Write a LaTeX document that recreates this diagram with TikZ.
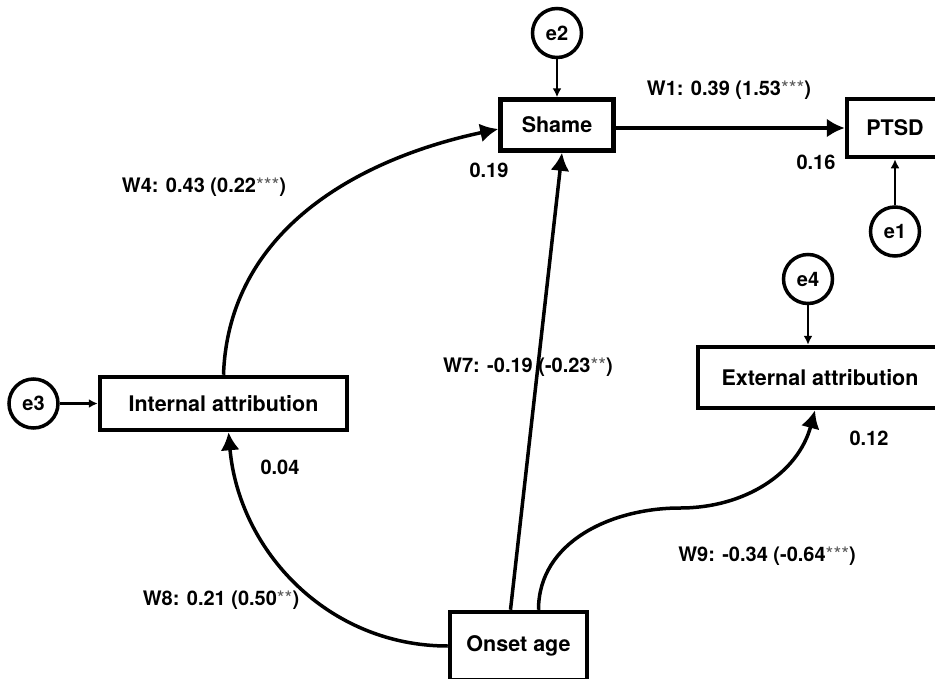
\documentclass[tikz,border=0pt]{standalone}
\usepackage{fontspec}
\setmainfont{TeX Gyre Heros}
\usepackage{tikz}
\usetikzlibrary{arrows,arrows.meta,calc,positioning}
\tikzset{
        block/.style = {draw, rectangle, line width=4.5pt,
            font=\fontsize{21.5}{25}\selectfont\bfseries},
        err/.style = {draw, circle, line width=3.5pt,
            minimum size=49pt, inner sep=0pt,
            font=\fontsize{20}{24}\selectfont\bfseries},
        lbl/.style = {font=\fontsize{20}{24}\selectfont\bfseries},
        arrow/.style = {draw, line width=3.5pt, -{Latex[length=18pt,width=19pt]}},
        errarrow/.style = {draw, line width=2.8pt, -{Latex[length=9pt,width=9pt]}},
    }
\newcommand{\sigstars}[1]{{\mdseries\color{black!65}#1}}

\begin{document}
\begin{tikzpicture}[x=1pt,y=-1pt]
    \useasboundingbox (0,0) rectangle (935,678);

    % boxes
    \node[block, minimum width=113pt, minimum height=51pt] (shame) at (557,125) {Shame};
    \node[block, minimum width=96pt, minimum height=58pt] (ptsd) at (895,128) {PTSD};
    \node[block, minimum width=247pt, minimum height=53pt] (intl) at (223.5,403.5) {Internal attribution};
    \node[block, minimum width=244pt, minimum height=61pt] (ext) at (820,377.5) {External attribution};
    \node[block, minimum width=137pt, minimum height=68pt] (onset) at (518.5,646) {Onset age};

    % error terms
    \node[err, above=38pt of shame] (e2) {e2};
    \node[err, below=46pt of ptsd] (e1) {e1};
    \node[err, left=38pt of intl] (e3) {e3};
    \node[err] (e4) at (808,279) {e4};

    \draw[errarrow] (e2) -- (shame);
    \draw[errarrow] (e1) -- (ptsd);
    \draw[errarrow] (e3) -- (intl);
    \draw[errarrow] (e4) -- (e4 |- ext.north);

    % paths
    \coordinate (bend9) at (680,508);
    \draw[arrow] (shame.east |- ptsd.west) -- (ptsd.west);
    \draw[arrow] (intl.north) to[out=88,in=192] ([yshift=-4pt]shame.west);
    \draw[arrow] (onset.west) to[out=180,in=-85] ([xshift=5pt]intl.south);
    \draw[arrow] ([xshift=-8pt]onset.north) -- ([xshift=5pt]shame.south);
    \draw[arrow] ([xshift=20pt]onset.north) to[out=90,in=180] (bend9)
        to[out=0,in=-105] ([xshift=-5pt]ext.south);

    % weights and R2
    \node[lbl] (w1) at (729,90) {W1: 0.39 (1.53\sigstars{***})};
    \node[lbl] (w4) at (204,187) {W4: 0.43 (0.22\sigstars{***})};
    \node[lbl] (w7) at (528,367) {W7: -0.19 (-0.23\sigstars{**})};
    \node[lbl] (w9) at (767,556) {W9: -0.34 (-0.64\sigstars{***})};
    \node[lbl] (w8) at (221,600) {W8: 0.21 (0.50\sigstars{**})};
    \node[lbl] (r2) at (489,170) {0.19};
    \node[lbl] (r1) at (816,162) {0.16};
    \node[lbl] (r3) at (280,467) {0.04};
    \node[lbl] (r4) at (869,438) {0.12};
\end{tikzpicture}
\end{document}
